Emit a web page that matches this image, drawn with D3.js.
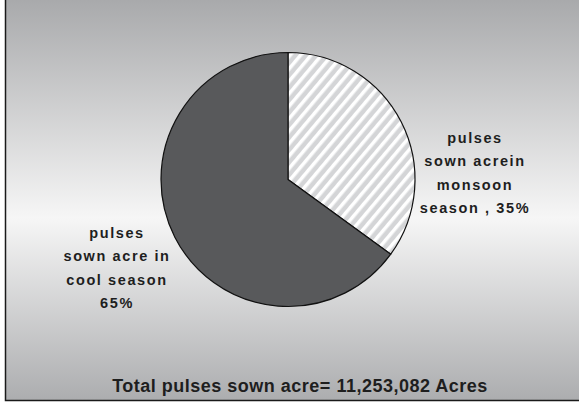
<!DOCTYPE html>
<html><head><meta charset="utf-8">
<script src="https://cdn.jsdelivr.net/npm/d3@7"></script>
<style>html,body{margin:0;padding:0;background:#fff;}svg{display:block;}</style>
</head><body>
<script>
const categories = ["pulses sown acrein monsoon season", "pulses sown acre in cool season"];
const values = [35, 65];
const labelLines = [
  ["pulses", "sown acrein", "monsoon", "season , 35%"],
  ["pulses", "sown acre in", "cool season", "65%"]
];
const title = "Total pulses sown acre= 11,253,082 Acres";

const W = 579, H = 403;
const svg = d3.select("body").append("svg").attr("width", W).attr("height", H);
const defs = svg.append("defs");
const g = defs.append("linearGradient").attr("id", "bg").attr("x1", 0).attr("y1", 0).attr("x2", 0).attr("y2", 1);
g.append("stop").attr("offset", "0").attr("stop-color", "#a7a8aa");
g.append("stop").attr("offset", "0.55").attr("stop-color", "#f6f6f6");
g.append("stop").attr("offset", "1").attr("stop-color", "#acadaf");

const pat = defs.append("pattern").attr("id", "hatch").attr("patternUnits", "userSpaceOnUse")
  .attr("width", 8).attr("height", 8).attr("patternTransform", "rotate(40)");
pat.append("rect").attr("width", 8).attr("height", 8).attr("fill", "#d4d5d7");
pat.append("rect").attr("x", 0).attr("width", 3.5).attr("height", 8).attr("fill", "#ffffff");

svg.append("rect").attr("x", 0).attr("y", 0).attr("width", W).attr("height", H).attr("fill", "#ffffff");
svg.append("rect").attr("x", 5.5).attr("y", -5).attr("width", W + 10).attr("height", 405.5)
  .attr("fill", "url(#bg)").attr("stroke", "#1a1a1a").attr("stroke-width", 1.5);

const cx = 288, cy = 179.5, r = 127;
const pie = d3.pie().sort(null).value(d => d)(values);
const arc = d3.arc().innerRadius(0).outerRadius(r);
const fills = ["url(#hatch)", "#58595b"];
const pg = svg.append("g").attr("transform", `translate(${cx},${cy})`);
pg.selectAll("path").data(pie).join("path")
  .attr("d", arc).attr("fill", (d, i) => fills[i])
  .attr("stroke", "#111").attr("stroke-width", 1.2).attr("stroke-linejoin", "round");

const labelPos = [{x: 475, y: 143}, {x: 117, y: 238}];
labelLines.forEach((lines, i) => {
  const t = svg.append("text").attr("text-anchor", "middle")
    .attr("font-family", "Liberation Sans, Arial, sans-serif").attr("font-weight", "bold")
    .attr("font-size", 14.5).attr("letter-spacing", 1.6).attr("fill", "#1e1e1e");
  lines.forEach((l, j) => {
    t.append("tspan").attr("x", labelPos[i].x).attr("y", labelPos[i].y + j * 23.3).text(l);
  });
});

svg.append("text").attr("x", 300).attr("y", 392).attr("text-anchor", "middle")
  .attr("font-family", "Liberation Sans, Arial, sans-serif").attr("font-weight", "bold")
  .attr("font-size", 18).attr("letter-spacing", 0.5).attr("fill", "#1e1e1e").text(title);
</script>
</body></html>
